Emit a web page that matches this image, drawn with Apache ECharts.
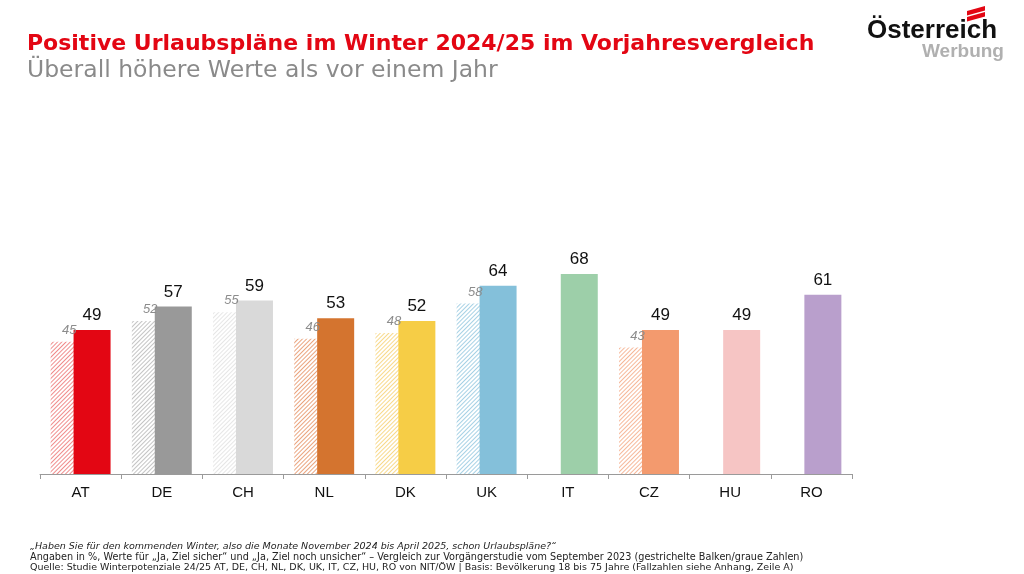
<!DOCTYPE html>
<html><head><meta charset="utf-8">
<script src="https://cdn.jsdelivr.net/npm/echarts@6/dist/echarts.min.js"></script>
<style>html,body{margin:0;padding:0;background:#fff}#c{width:1024px;height:574px}</style>
</head><body><div id="c"></div>
<script>
const categories = ['AT','DE','CH','NL','DK','UK','IT','CZ','HU','RO'];
const currentValues = [49,57,59,53,52,64,68,49,49,61];
const previousValues = [45,52,55,46,48,58,null,43,null,null];
const barColors = ['#e30613','#999999','#d9d9d9','#d4742f','#f6cd46','#84c0da','#9dcfa9','#f39a6e','#f6c5c4','#b99fcc'];
const hatchColors = ['#f08c8c','#c4c4c4','#e6e6e6','#eaa47e','#f8d98a','#a6d1e5','#bfe0c7','#f6b89a','#f9dbda','#d5c5e0'];

function hatchDecal(color){
  return {symbol: 'rect', symbolSize: 1, color: color, dashArrayX: [1, 0], dashArrayY: [1, 2], rotation: -Math.PI / 4};
}

const chart = echarts.init(document.getElementById('c'), null, {renderer:'canvas'});
const footFont = 'DejaVu Sans, sans-serif';
chart.setOption({
  animation: false,
  grid: {left: 40, right: 172, top: 180, bottom: 100},
  xAxis: {
    type: 'category', data: categories,
    axisLine: {lineStyle: {color: '#9a9a9a', width: 1}},
    axisTick: {show: true, length: 5, lineStyle: {color: '#9a9a9a'}},
    axisLabel: {color: '#111', fontSize: 15, margin: 11, fontFamily: 'Liberation Sans, Arial, sans-serif'}
  },
  yAxis: {type: 'value', min: 0, max: 100, show: false, splitLine: {show: false}},
  series: [
    {
      type: 'bar', barWidth: 37, barGap: '-38%',
      data: previousValues.map((v,i)=> v==null ? null : {value: v, itemStyle: {color: '#ffffff', decal: hatchDecal(hatchColors[i])}}),
      label: {show: true, position: 'top', distance: 5, color: '#8c8c8c', fontSize: 13, fontStyle: 'italic', fontFamily: 'Liberation Sans, Arial, sans-serif'}
    },
    {
      type: 'bar', barWidth: 37,
      data: currentValues.map((v,i)=>({value: v, itemStyle: {color: barColors[i]}})),
      label: {show: true, position: 'top', distance: 6, color: '#111', fontSize: 17, fontFamily: 'Liberation Sans, Arial, sans-serif'}
    }
  ],
  graphic: [
    {type:'text', left: 27, top: 33, style:{text:'Positive Urlaubspläne im Winter 2024/25 im Vorjahresvergleich', fill:'#e30613', font:'bold 22px DejaVu Sans, sans-serif'}},
    {type:'text', left: 27, top: 59, style:{text:'Überall höhere Werte als vor einem Jahr', fill:'#8a8a8a', font:'23.5px DejaVu Sans, sans-serif'}},
    {type:'text', left: 867, top: 18, style:{text:'Österreich', fill:'#111', font:'bold 26px Liberation Sans, Arial, sans-serif'}},
    {type:'text', left: 922, top: 42, style:{text:'Werbung', fill:'#b0b0b0', font:'bold 19px Liberation Sans, Arial, sans-serif'}},
    {type:'polygon', shape:{points:[[967,11],[985,6],[985,10.5],[967,15.5]]}, style:{fill:'#e30613'}},
    {type:'polygon', shape:{points:[[967,17],[985,12],[985,16.5],[967,21.5]]}, style:{fill:'#e30613'}},
    {type:'text', left: 30, top: 542, style:{text:'„Haben Sie für den kommenden Winter, also die Monate November 2024 bis April 2025, schon Urlaubspläne?“', fill:'#222', font:'italic 9.5px ' + footFont}},
    {type:'text', left: 30, top: 552, style:{text:'Angaben in %, Werte für „Ja, Ziel sicher“ und „Ja, Ziel noch unsicher“ – Vergleich zur Vorgängerstudie vom September 2023 (gestrichelte Balken/graue Zahlen)', fill:'#222', font:'9.7px ' + footFont}},
    {type:'text', left: 30, top: 563, style:{text:'Quelle: Studie Winterpotenziale 24/25 AT, DE, CH, NL, DK, UK, IT, CZ, HU, RO von NIT/ÖW | Basis: Bevölkerung 18 bis 75 Jahre (Fallzahlen siehe Anhang, Zeile A)', fill:'#222', font:'9.5px ' + footFont}}
  ]
});
</script></body></html>
